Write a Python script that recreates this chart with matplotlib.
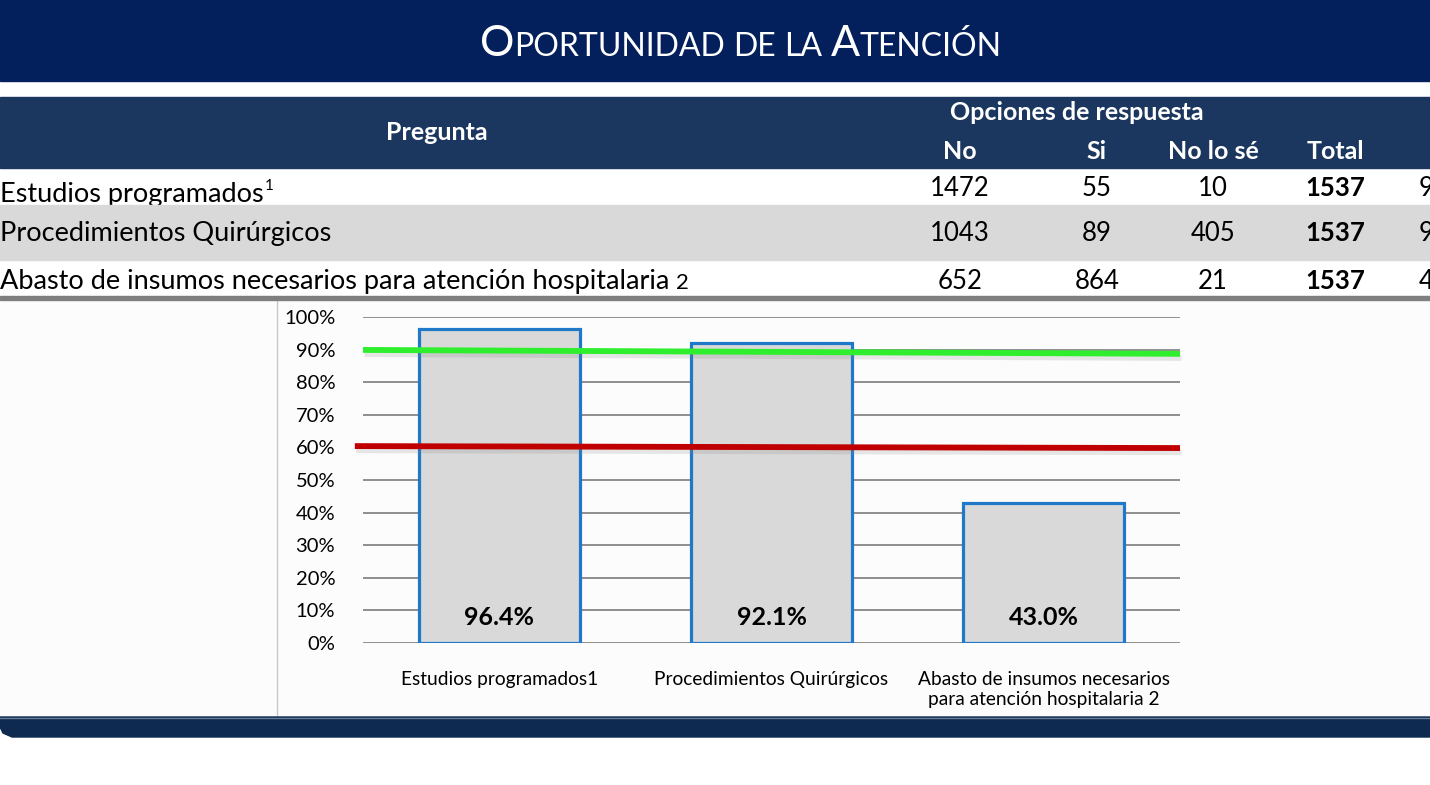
import matplotlib
matplotlib.use('Agg')
import matplotlib.pyplot as plt
import matplotlib.patheffects as pe
from matplotlib.patches import Rectangle, Polygon

plt.rcParams['font.family'] = ['Lato', 'DejaVu Sans']

# Datos de la tabla
titulo = 'Oportunidad de la Atención'
preguntas = ['Estudios programados', 'Procedimientos Quirúrgicos',
             'Abasto de insumos necesarios para atención hospitalaria']
notas = ['1', '', '2']
columnas = ['No', 'Si', 'No lo sé', 'Total']
resp_no = [1472, 1043, 652]
resp_si = [55, 89, 864]
resp_nose = [10, 405, 21]
resp_total = [1537, 1537, 1537]

# Datos de la gráfica
etiquetas_x = ['Estudios programados1', 'Procedimientos Quirúrgicos',
               'Abasto de insumos necesarios\npara atención hospitalaria 2']
porcentaje = [96.4, 92.1, 43.0]
meta_verde = [89.9, 88.7]
meta_roja = [60.4, 59.8]
ticks_y = [0, 10, 20, 30, 40, 50, 60, 70, 80, 90, 100]

AZUL_TITULO = '#03205D'
AZUL_TABLA = '#1B3760'
AZUL_PIE = '#0E2A50'

fig = plt.figure(figsize=(14.3, 7.85), dpi=100)
fig.patch.set_facecolor('white')

# fondo en coordenadas de pixel
bg = fig.add_axes([0, 0, 1, 1])
bg.set_xlim(0, 1430)
bg.set_ylim(785, 0)
bg.axis('off')

bg.add_patch(Rectangle((0, 0), 1430, 81, color=AZUL_TITULO, zorder=1))
bg.add_patch(Rectangle((0, 97), 1430, 71, color=AZUL_TABLA, zorder=1))
bg.add_patch(Rectangle((0, 300), 1430, 417, color='#FCFCFC', zorder=1))
bg.add_patch(Rectangle((0, 296), 1430, 4, color='#7F7F7F', zorder=5))
bg.plot([277, 277], [300, 717], color='#C8C8C8', lw=1, zorder=2)
bg.add_patch(Polygon([(0, 717), (1430, 717), (1430, 737), (12, 737), (3, 733), (0, 727)],
                     closed=True, color=AZUL_PIE, zorder=2))
bg.plot([0, 1430], [718, 718], color='#6A7F9C', lw=1, zorder=3)

renderer = fig.canvas.get_renderer()


def ancho(s, **kw):
    t = bg.text(0, 0, s, **kw)
    w = t.get_window_extent(renderer).width
    t.remove()
    return w


def versalitas(xc, y, texto, grande, chica, color):
    # titulo en versalitas: primera letra mayuscula grande, resto chico
    piezas = []
    espacio = ancho('A A', fontsize=chica) - ancho('AA', fontsize=chica)
    for palabra in texto.split():
        if palabra[0].isupper():
            piezas.append((palabra[0], grande))
            resto = palabra[1:]
        else:
            resto = palabra
        piezas.append((resto.upper(), chica))
        piezas.append((None, espacio))
    piezas = piezas[:-1]
    anchos = [p[1] if p[0] is None else ancho(p[0], fontsize=p[1]) for p in piezas]
    x = xc - sum(anchos) / 2
    for (s, tam), w in zip(piezas, anchos):
        if s is not None:
            bg.text(x, y, s, fontsize=tam, color=color, va='baseline', ha='left', zorder=6)
        x += w


versalitas(741, 56, titulo, 31, 23, 'white')

# encabezado de tabla
bg.text(437, 132, 'Pregunta', fontsize=18, fontweight='bold', color='white',
        ha='center', va='center', zorder=6)
bg.text(1077, 120, 'Opciones de respuesta', fontsize=18, fontweight='bold', color='white',
        ha='center', va='baseline', zorder=6)
x_cols = [960, 1097, 1213, 1335]
for xc, col in zip(x_cols, columnas):
    bg.text(xc, 159, col, fontsize=18, fontweight='bold', color='white',
            ha='center', va='baseline', zorder=6)

# filas de la tabla
base_texto = [202, 241, 289]
base_num = [196, 241, 289]
for i, preg in enumerate(preguntas):
    z = 2 if i == 0 else 6
    t = bg.text(0, base_texto[i], preg, fontsize=19.5, color='black',
                ha='left', va='baseline', zorder=z)
    w = t.get_window_extent(renderer).width
    if notas[i] == '1':
        bg.text(w + 1, base_texto[i] - 12, notas[i], fontsize=11, ha='left',
                va='baseline', zorder=z)
    elif notas[i]:
        bg.text(w + 7, base_texto[i], notas[i], fontsize=16, ha='left',
                va='baseline', zorder=z)
    vals = [resp_no[i], resp_si[i], resp_nose[i], resp_total[i]]
    for j, (xc, v) in enumerate(zip(x_cols, vals)):
        bg.text(xc, base_num[i], str(v), fontsize=18.5, ha='center', va='baseline',
                fontweight='bold' if j == 3 else 'normal', zorder=6)
    bg.text(1419, base_num[i], f'{porcentaje[i]:.1f}%', fontsize=18.5, ha='left',
            va='baseline', zorder=6)

# fila gris tapa las descendentes de la primera fila
bg.add_patch(Rectangle((0, 205), 1430, 55, color='#D9D9D9', zorder=4))

# grafica de barras
ax = fig.add_axes([363 / 1430, (785 - 643) / 785, 817 / 1430, 326 / 785])
ax.set_facecolor('none')
x = range(len(porcentaje))
ax.bar(x, [p / 100 for p in porcentaje], width=0.59, color='#D9D9D9',
       edgecolor='#1F78C8', linewidth=2.3, zorder=2)
for xi, p in zip(x, porcentaje):
    ax.text(xi, 0.077, f'{p:.1f}%', ha='center', va='center', fontsize=18,
            fontweight='bold', zorder=4)

sombra = [pe.SimpleLineShadow(offset=(1, -3), alpha=0.18, shadow_color='gray'), pe.Normal()]
ax.plot([-0.5, 2.5], [v / 100 for v in meta_verde], color='#2EEE2E', lw=4.2,
        solid_capstyle='butt', zorder=3, path_effects=sombra, clip_on=False)
ax.plot([-0.53, 2.5], [v / 100 for v in meta_roja], color='#C00000', lw=4.2,
        solid_capstyle='butt', zorder=3, path_effects=sombra, clip_on=False)

ax.set_xlim(-0.5, 2.5)
ax.set_ylim(0, 1)
ax.set_yticks([t / 100 for t in ticks_y])
ax.set_yticklabels([f'{t}%' for t in ticks_y])
ax.yaxis.grid(True, color='#868686', lw=1.3, zorder=0)
ax.set_axisbelow(True)
ax.set_xticks(list(x))
ax.set_xticklabels(etiquetas_x, fontsize=13.8)
ax.tick_params(axis='y', length=0, pad=20, labelsize=14.5)
ax.tick_params(axis='x', length=0, pad=20)
for s in ax.spines.values():
    s.set_visible(False)

plt.savefig('out.png', dpi=100)
